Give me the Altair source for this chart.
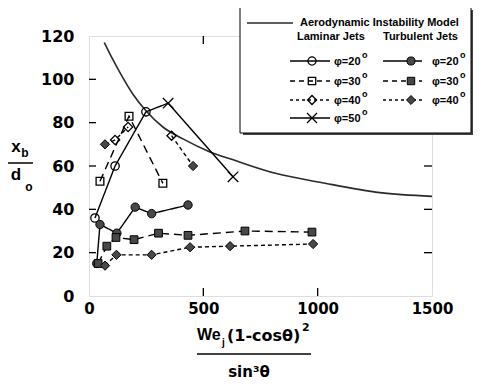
import altair as alt
import pandas as pd

# ---------------- data ----------------
x_ticks = [0, 500, 1000, 1500]
y_ticks = [0, 20, 40, 60, 80, 100, 120]

model_x = [67, 100, 136, 193, 249, 323, 411, 529, 640, 820, 1010, 1272, 1500]
model_y = [117, 110, 103, 93, 85.5, 78, 72.5, 66.5, 62.5, 56.5, 52.5, 47.7, 46]

# markers
lam20_x = [26, 114, 249]
lam20_y = [36, 60, 85]
lam30_x = [48, 175, 323]
lam30_y = [53, 83, 52]
lam40_x = [114, 171, 361]
lam40_y = [72, 78, 74]
lam50_x = [346, 630]
lam50_y = [89, 55]
tur20_x = [34, 48, 122, 202, 274, 433]
tur20_y = [15, 33, 29, 41, 38, 42]
tur30_x = [40, 78, 118, 197, 304, 433, 682, 975]
tur30_y = [15, 23, 27, 26, 29, 28, 30, 29.5]
tur40_x = [70, 120, 274, 442, 617, 980]
tur40_y = [14, 19, 19, 22.5, 23, 24]
tur40b_x = [70, 455]
tur40b_y = [70, 60]

# connecting lines (series name -> x, y)
solid_lines = {
    "L20": ([26, 114, 249], [36, 60, 85]),
    "L50": ([249, 346, 630], [85, 89, 55]),
    "T20": ([34, 48, 122, 202, 274, 433], [15, 33, 29, 41, 38, 42]),
}
dashed_lines = {
    "L30": ([48, 175, 323], [53, 83, 52]),
    "T30": (tur30_x, tur30_y),
}
dotted_lines = {
    "L40": ([70, 114, 171], [70, 72, 78]),
    "L40b": ([361, 455], [74, 60]),
    "T40": (tur40_x, tur40_y),
}

lam_labels = ["\u03c6=20", "\u03c6=30", "\u03c6=40", "\u03c6=50"]
tur_labels = ["\u03c6=20", "\u03c6=30", "\u03c6=40"]

# ---------------- layout ----------------
PW, PH = 343, 260
FONT = "Liberation Sans"
NUM = "DejaVu Sans"

xs = alt.Scale(domain=[0, 1500], nice=False, zero=False)
ys = alt.Scale(domain=[0, 120], nice=False)
XE = alt.X("x:Q", scale=xs, title=None,
           axis=alt.Axis(values=x_ticks, format="d", ticks=False, domain=False, grid=False,
                         labelFont=NUM, labelFontWeight="bold", labelFontSize=15,
                         labelColor="black", labelPadding=5, labelFlush=False))
YE = alt.Y("y:Q", scale=ys, title=None,
           axis=alt.Axis(values=y_ticks, format="d", ticks=False, domain=False, grid=False,
                         labelFont=NUM, labelFontWeight="bold", labelFontSize=16,
                         labelColor="black", labelPadding=15))


def df(xv, yv):
    return pd.DataFrame({"x": xv, "y": yv})


def lines_df(d):
    rows = []
    for name, (xv, yv) in d.items():
        for i, (a, b) in enumerate(zip(xv, yv)):
            rows.append({"series": name, "order": i, "x": a, "y": b})
    return pd.DataFrame(rows)


layers = []

model = alt.Chart(df(model_x, model_y)).mark_line(
    interpolate="monotone", stroke="#2a2a2a", strokeWidth=1.6
).encode(x=XE, y=YE)
layers.append(model)

for d, dash in [(solid_lines, [1, 0]), (dashed_lines, [8, 5]), (dotted_lines, [4, 3])]:
    layers.append(
        alt.Chart(lines_df(d)).mark_line(stroke="black", strokeWidth=1.4, strokeDash=dash)
        .encode(x=XE, y=YE, detail="series:N", order="order:Q")
    )

XSHAPE = "M-1,-1L1,1M-1,1L1,-1"


def open_pts(xv, yv, shape, size):
    return alt.Chart(df(xv, yv)).mark_point(
        shape=shape, filled=False, stroke="black", strokeWidth=1.3, size=size, opacity=1
    ).encode(x=XE, y=YE)


def fill_pts(xv, yv, shape, size):
    return alt.Chart(df(xv, yv)).mark_point(
        shape=shape, filled=True, fill="#484848", stroke="black", strokeWidth=1,
        size=size, opacity=1
    ).encode(x=XE, y=YE)


layers += [
    open_pts(lam20_x, lam20_y, "circle", 70),
    open_pts(lam30_x, lam30_y, "square", 60),
    open_pts(lam40_x, lam40_y, "diamond", 85),
    open_pts(lam50_x, lam50_y, XSHAPE, 110),
    fill_pts(tur20_x, tur20_y, "circle", 70),
    fill_pts(tur30_x, tur30_y, "square", 60),
    fill_pts(tur40_x, tur40_y, "diamond", 85),
    fill_pts(tur40b_x, tur40b_y, "diamond", 85),
]

# inward frame ticks
yt = df([0] * 5, [20, 40, 60, 80, 100])
xt = df([500, 1000], [0, 0])
layers += [
    alt.Chart(yt).mark_rule(stroke="black", strokeWidth=1.3).encode(y=YE, x=alt.value(0), x2=alt.value(7)),
    alt.Chart(yt).mark_rule(stroke="black", strokeWidth=1.3).encode(y=YE, x=alt.value(PW - 8), x2=alt.value(PW)),
    alt.Chart(xt).mark_rule(stroke="black", strokeWidth=1.3).encode(x=XE, y=alt.value(PH), y2=alt.value(PH - 8)),
    alt.Chart(xt).mark_rule(stroke="black", strokeWidth=1.3).encode(x=XE, y=alt.value(0), y2=alt.value(8)),
]

one = pd.DataFrame({"k": [0]})


def rule(x1, x2, y1, y2=None, dash=None, w=1.3, color="black"):
    kw = dict(stroke=color, strokeWidth=w)
    if dash:
        kw["strokeDash"] = dash
    enc = dict(x=alt.value(x1), x2=alt.value(x2), y=alt.value(y1))
    if y2 is not None:
        enc["y2"] = alt.value(y2)
    return alt.Chart(one).mark_rule(**kw).encode(**enc)


def text(t, x, y, size=11, font=FONT, weight="bold", align="left", baseline="middle"):
    return alt.Chart(one).mark_text(
        text=t, font=font, fontSize=size, fontWeight=weight, align=align,
        baseline=baseline, color="black"
    ).encode(x=alt.value(x), y=alt.value(y))


def lpoint(x, y, shape, filled, size):
    if filled:
        m = alt.Chart(one).mark_point(shape=shape, filled=True, fill="#484848", stroke="black",
                                      strokeWidth=1, size=size, opacity=1)
    else:
        m = alt.Chart(one).mark_point(shape=shape, filled=False, stroke="black",
                                      strokeWidth=1.3, size=size, opacity=1)
    return m.encode(x=alt.value(x), y=alt.value(y))


# legend box (pixel layout relative to plot origin)
BX1, BX2, BY1, BY2 = 151, 382, -29, 97
layers.append(alt.Chart(one).mark_rect(fill="#444").encode(
    x=alt.value(BX1 + 3), x2=alt.value(BX2 + 2), y=alt.value(BY1 + 3), y2=alt.value(BY2 + 2)))
layers.append(alt.Chart(one).mark_rect(fill="white", stroke="black", strokeWidth=1).encode(
    x=alt.value(BX1), x2=alt.value(BX2), y=alt.value(BY1), y2=alt.value(BY2)))

layers.append(rule(158, 204, -13, w=1.6, color="#2a2a2a"))
layers.append(text("Aerodynamic Instability Model", 211, -13))
layers.append(text("Laminar Jets", 208, 1))
layers.append(text("Turbulent Jets", 294, 1))

row_y = [25, 45, 64, 82]
styles = [None, [5, 4], [3, 3], None]
lam_shapes = ["circle", "square", "diamond", XSHAPE]
lam_sizes = [65, 55, 80, 100]
for i, lab in enumerate(lam_labels):
    layers.append(rule(201, 241, row_y[i], dash=styles[i]))
    layers.append(lpoint(223, row_y[i], lam_shapes[i], False, lam_sizes[i]))
    layers.append(text(lab, 245, row_y[i] + 1, size=11))
    layers.append(text("o", 273, row_y[i] - 6, size=9))
for i, lab in enumerate(tur_labels):
    layers.append(rule(294, 333, row_y[i], dash=styles[i]))
    layers.append(lpoint(322, row_y[i], lam_shapes[i], True, lam_sizes[i]))
    layers.append(text(lab, 343, row_y[i] + 1, size=11))
    layers.append(text("o", 371, row_y[i] - 6, size=9))

# y title: x_b / d_o
layers += [
    text("x", -73, 111, size=17, align="center"),
    text("b", -64, 117, size=12, align="center"),
    rule(-81, -56, 127, w=1.5),
    text("d", -73, 139, size=17, align="center"),
    text("o", -60, 151, size=12, align="center"),
]

# x title: We_j (1-cos θ)^2 / sin^3 θ
layers += [
    text("We", 108, 299, size=16),
    text("j", 133, 307, size=10),
    text("(1-cos\u03b8)", 138, 300, size=16, font=NUM),
    text("2", 213, 292, size=11, font=NUM),
    rule(108, 222, 318, w=1.6),
    text("sin\u00b3\u03b8", 160, 336, size=15, font=NUM, align="center"),
]

chart = alt.layer(*layers).properties(
    width=PW, height=PH,
    padding={"left": 81, "top": 28, "right": 42, "bottom": 86},
    autosize=alt.AutoSizeParams(type="none"),
).configure_view(stroke="black", strokeWidth=1.6).configure(background="white")

chart.save("out.html", embed_options={"renderer": "svg", "actions": False})
